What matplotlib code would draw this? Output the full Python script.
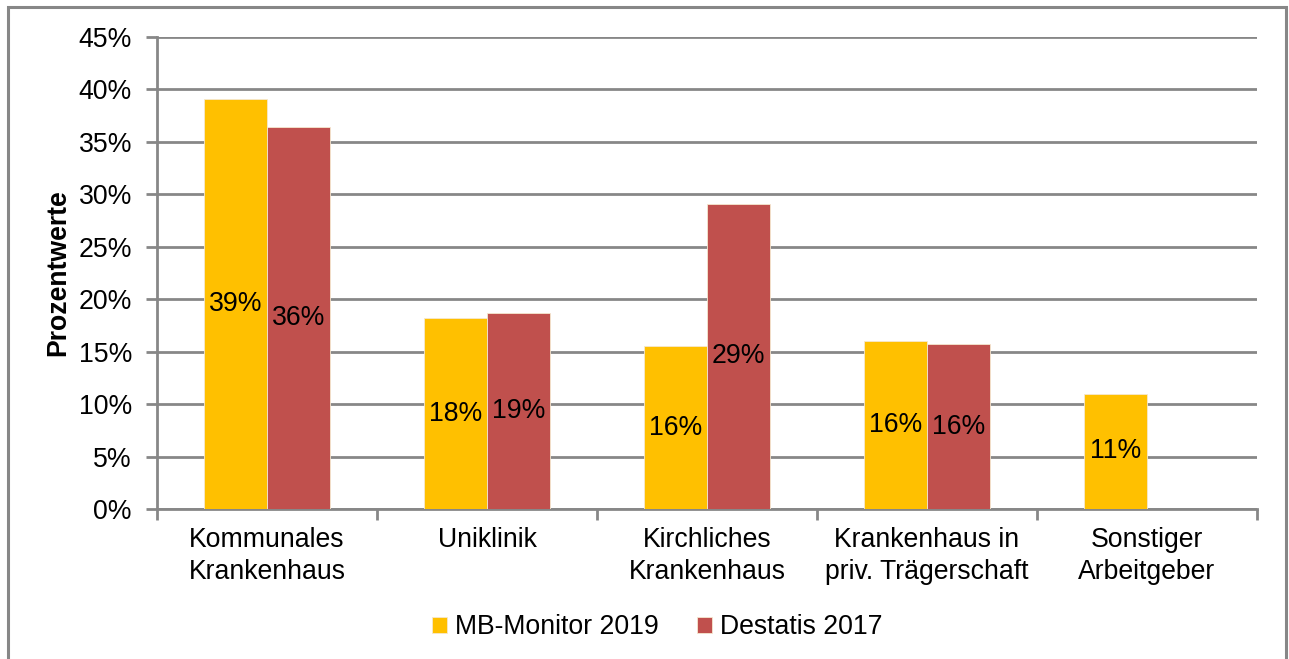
import matplotlib
matplotlib.use('Agg')
import matplotlib.pyplot as plt
import numpy as np
from matplotlib.patches import Rectangle

# data
categories = ['Kommunales\nKrankenhaus', 'Uniklinik', 'Kirchliches\nKrankenhaus',
              'Krankenhaus in\npriv. Trägerschaft', 'Sonstiger\nArbeitgeber']
mb_monitor = [39.1, 18.2, 15.5, 16.0, 11.0]
destatis = [36.4, 18.7, 29.1, 15.7, None]
series_names = ['MB-Monitor 2019', 'Destatis 2017']
colors = ['#FFC000', '#C0504D']
yticks = [0, 5, 10, 15, 20, 25, 30, 35, 40, 45]

plt.rcParams['font.family'] = ['Liberation Sans', 'DejaVu Sans']
fs = 19.2
grey = '#878787'

fig = plt.figure(figsize=(12.89, 6.59), dpi=100)
ax = fig.add_axes([157 / 1289, 150 / 659, 1100 / 1289, 472 / 659])

# figure border
fig.patches.append(Rectangle((8 / 1289, -0.01), 1278 / 1289, 652 / 659 + 0.01,
                             transform=fig.transFigure, fill=False,
                             edgecolor=grey, linewidth=2.2))

x = np.arange(len(categories))
w = 0.286
for i, (vals, col, name) in enumerate(zip([mb_monitor, destatis], colors, series_names)):
    xs = [xi for xi, v in zip(x, vals) if v is not None]
    vs = [v for v in vals if v is not None]
    pos = np.array(xs) + (i - 0.5) * w
    ax.bar(pos, vs, width=w, color=col, edgecolor='#f5e8d0', linewidth=0.6,
           label=name, zorder=3)
    for p, v in zip(pos, vs):
        ax.text(p, v / 2, '%d%%' % round(v), ha='center', va='center',
                fontsize=fs, zorder=4)

ax.set_xlim(-0.5, len(categories) - 0.5)
ax.set_ylim(0, 45)
ax.set_yticks(yticks)
ax.set_yticklabels(['%d%%' % t for t in yticks], fontsize=fs)
ax.yaxis.grid(True, color=grey, linewidth=2, zorder=0)
ax.set_axisbelow(True)

ax.set_xticks(x)
ax.set_xticklabels(categories, fontsize=fs, linespacing=1.3)
ax.set_xticks(np.arange(len(categories) + 1) - 0.5, minor=True)
ax.tick_params(axis='x', which='major', length=0, pad=13)
ax.tick_params(axis='x', which='minor', length=8, width=2, color=grey, direction='out')
ax.tick_params(axis='y', length=8, width=2, color=grey, pad=10)

for s in ['top', 'right']:
    ax.spines[s].set_visible(False)
for s in ['left', 'bottom']:
    ax.spines[s].set_color(grey)
    ax.spines[s].set_linewidth(2)

ax.set_ylabel('Prozentwerte', fontsize=fs, fontweight='bold', labelpad=5)

leg = ax.legend(loc='center', bbox_to_anchor=(0.455, -0.25), ncol=2, frameon=False,
                fontsize=fs, handlelength=0.55, handleheight=0.55,
                handletextpad=0.3, columnspacing=1.45)

fig.savefig('out.png', dpi=100)
